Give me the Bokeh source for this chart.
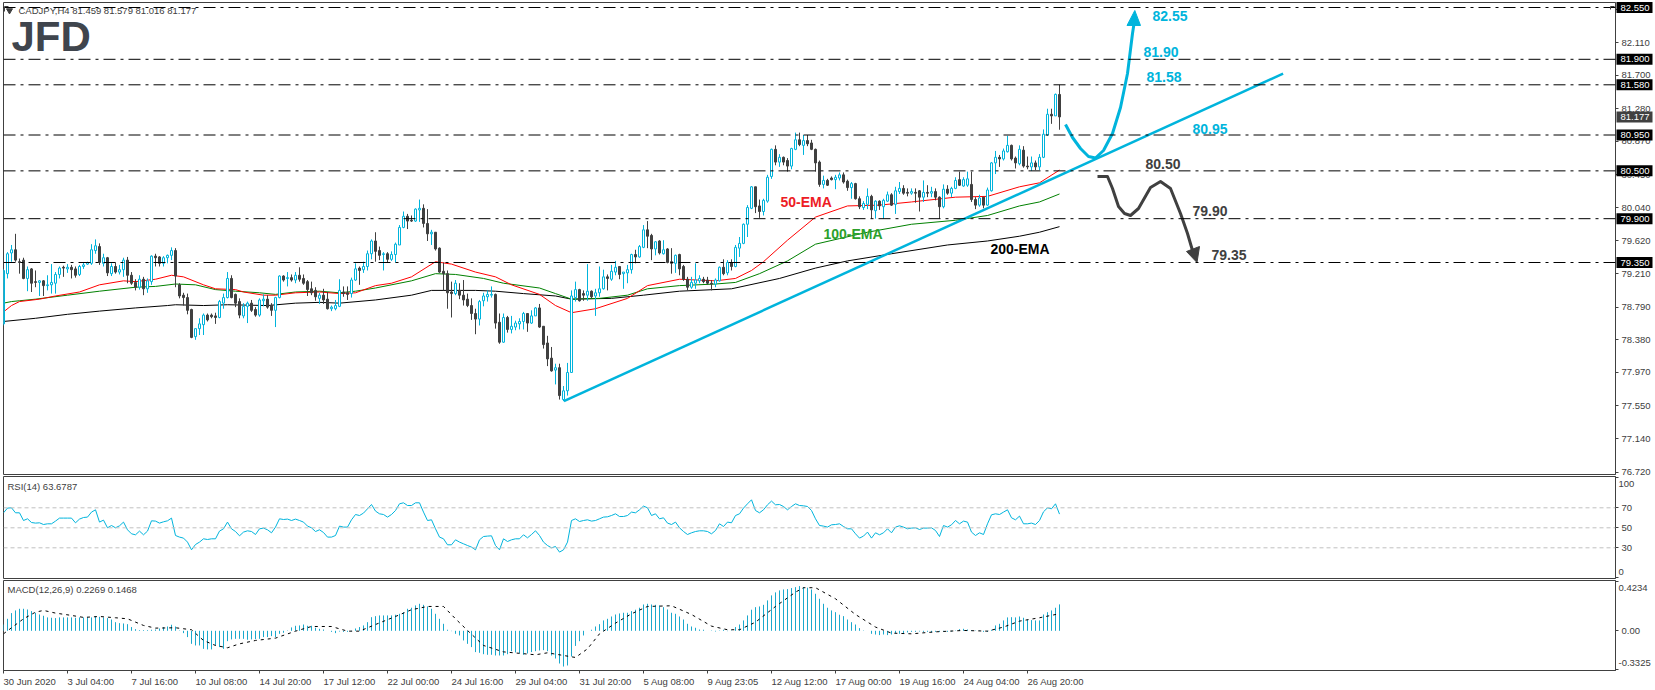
from bokeh.core.properties import value
from bokeh.embed import file_html
from bokeh.resources import INLINE
from bokeh.layouts import column
from bokeh.models import FixedTicker, Label, NumeralTickFormatter, Range1d, Span
from bokeh.plotting import figure

FONT = "Liberation Sans"
CYAN = "#00b4dc"
DARK = "#404040"

# ---------------- candle data (CADJPY H4) ----------------
rising = [1,1,1,0,0,0,1,0,0,1, 0,1,1,1,1,0,1,0,0,1, 1,1,1,1,0,1,0,1,0,1, 1,0,0,0,1,0,1,1,0,0,
          1,1,1,0,0,0,0,0,1,1, 1,0,0,0,1,1,1,0,0,0, 1,1,0,0,1,1,0,0,1,1, 0,1,0,1,0,0,0,0,0,1,
          0,0,1,1,1,0,0,1,1,0, 1,1,1,0,0,1,0,1,1,1, 1,0,0,1,1,0,0,1,0,0, 0,0,0,1,0,0,0,0,0,1,
          1,1,1,0,0,1,0,1,1,1, 1,0,1,1,0,0,0,0,1,0, 1,1,1,1,0,0,1,0,1,1, 1,0,1,1,0,1,1,1,0,1,
          1,0,0,1,0,1,0,0,1,0, 0,0,1,1,1,0,0,0,1,1, 0,1,0,1,1,1,1,1,0,0, 1,1,1,0,1,0,0,1,1,0,
          1,0,0,0,0,1,0,0,1,1, 0,0,1,0,0,1,1,0,1,0, 1,1,0,1,1,0,0,1,0,0, 1,0,1,0,0,1,0,1,1,0,
          1,1,0,0,1,0,1,1,1,0, 1,1,0,0,1,0,0,1,0,1, 1,1,0,1,0]

body_top = [79.25,79.46,79.51,79.51,79.36,79.38,79.26,79.27,79.11,79.12,
            79.12,79.07,79.10,79.20,79.28,79.29,79.29,79.29,79.27,79.30,
            79.32,79.35,79.51,79.56,79.55,79.41,79.41,79.30,79.30,79.26,
            79.38,79.38,79.19,79.10,79.14,79.14,79.12,79.43,79.43,79.42,
            79.41,79.44,79.50,79.50,79.07,78.94,78.91,78.76,78.52,78.58,
            78.69,78.69,78.69,78.68,78.86,78.91,79.15,79.15,78.95,78.86,
            78.80,78.84,78.84,78.76,78.88,78.89,78.89,78.81,78.91,79.18,
            79.18,79.16,79.16,79.19,79.19,79.15,79.11,79.02,79.00,78.94,
            78.94,78.89,78.79,78.81,79.00,78.98,78.97,79.13,79.27,79.28,
            79.30,79.46,79.62,79.62,79.50,79.46,79.46,79.45,79.58,79.79,
            79.93,79.93,79.88,80.02,80.03,80.03,79.84,79.73,79.73,79.53,
            79.24,79.21,78.98,79.09,79.00,78.94,78.89,78.81,78.71,78.86,
            78.93,78.95,78.95,78.95,78.60,78.66,78.66,78.55,78.59,78.61,
            78.71,78.71,78.68,78.78,78.78,78.55,78.34,78.15,78.03,78.03,
            77.74,77.97,78.93,79.01,79.01,78.96,78.99,78.99,78.97,79.02,
            79.17,79.17,79.24,79.29,79.30,79.23,79.26,79.45,79.45,79.55,
            79.76,79.76,79.69,79.61,79.62,79.51,79.52,79.36,79.44,79.45,
            79.30,79.14,79.10,79.13,79.15,79.14,79.13,79.09,79.13,79.29,
            79.29,79.35,79.35,79.54,79.59,79.83,80.04,80.30,80.30,80.06,
            80.13,80.42,80.77,80.77,80.67,80.67,80.63,80.78,80.89,80.89,
            80.88,80.88,80.85,80.77,80.61,80.38,80.38,80.41,80.42,80.45,
            80.45,80.37,80.34,80.34,80.15,80.09,80.18,80.18,80.12,80.12,
            80.13,80.20,80.20,80.25,80.28,80.28,80.23,80.24,80.23,80.25,
            80.23,80.23,80.24,80.24,80.17,80.27,80.27,80.28,80.38,80.39,
            80.39,80.40,80.33,80.14,80.16,80.17,80.26,80.60,80.67,80.67,
            80.75,80.82,80.82,80.66,80.77,80.76,80.56,80.60,80.60,80.67,
            80.96,81.21,81.21,81.46,81.459]

body_bot = [78.58,79.21,79.47,79.38,79.35,79.15,79.15,79.09,79.10,79.10,
            79.06,79.06,79.07,79.09,79.20,79.28,79.27,79.26,79.19,79.20,
            79.30,79.33,79.34,79.50,79.35,79.34,79.22,79.21,79.23,79.23,
            79.26,79.19,79.09,79.04,79.04,79.02,79.02,79.11,79.41,79.34,
            79.34,79.41,79.44,79.18,78.93,78.91,78.75,78.41,78.42,78.52,
            78.57,78.63,78.67,78.66,78.66,78.84,78.91,78.91,78.84,78.69,
            78.68,78.80,78.75,78.69,78.69,78.87,78.79,78.75,78.75,78.91,
            79.13,79.15,79.13,79.13,79.14,79.09,79.01,78.97,78.92,78.90,
            78.88,78.77,78.77,78.77,78.80,78.96,78.95,78.96,79.13,79.25,
            79.26,79.30,79.46,79.49,79.44,79.45,79.39,79.39,79.45,79.57,
            79.79,79.87,79.87,79.87,80.01,79.84,79.71,79.71,79.52,79.23,
            79.21,78.97,78.96,78.96,78.94,78.88,78.81,78.71,78.64,78.64,
            78.87,78.92,78.94,78.59,78.35,78.35,78.51,78.51,78.54,78.58,
            78.61,78.59,78.59,78.68,78.54,78.32,78.14,77.99,78.00,77.68,
            77.63,77.74,77.97,78.91,78.87,78.94,78.94,78.92,78.93,78.97,
            79.02,79.15,79.14,79.23,79.20,79.21,79.22,79.26,79.42,79.42,
            79.54,79.68,79.52,79.52,79.47,79.46,79.35,79.34,79.34,79.27,
            79.14,79.04,79.04,79.09,79.12,79.11,79.09,79.08,79.08,79.12,
            79.21,79.22,79.30,79.30,79.53,79.59,79.83,80.03,80.05,79.99,
            79.99,80.12,80.43,80.61,80.61,80.61,80.56,80.56,80.77,80.83,
            80.82,80.84,80.77,80.60,80.33,80.33,80.32,80.39,80.39,80.41,
            80.36,80.29,80.29,80.15,80.05,80.04,80.08,80.01,80.00,80.06,
            80.05,80.12,80.07,80.08,80.24,80.22,80.22,80.22,80.22,80.17,
            80.17,80.22,80.22,80.17,80.05,80.05,80.22,80.22,80.28,80.32,
            80.31,80.32,80.14,80.07,80.07,80.07,80.07,80.25,80.60,80.65,
            80.65,80.74,80.65,80.60,80.59,80.56,80.55,80.55,80.55,80.55,
            80.67,80.95,81.19,81.19,81.177]

highs = [79.27,79.48,79.57,79.71,79.40,79.41,79.30,79.28,79.25,79.13,
         79.13,79.19,79.33,79.23,79.30,79.31,79.33,79.32,79.30,79.32,
         79.35,79.36,79.58,79.64,79.59,79.46,79.42,79.34,79.35,79.32,
         79.41,79.42,79.23,79.14,79.19,79.17,79.15,79.44,79.46,79.43,
         79.43,79.45,79.54,79.53,79.09,78.97,78.96,78.77,78.52,78.65,
         78.71,78.71,78.71,78.72,78.88,78.96,79.23,79.19,78.96,78.90,
         78.84,78.86,78.88,78.79,78.90,78.95,78.94,78.84,78.92,79.19,
         79.19,79.23,79.20,79.23,79.29,79.20,79.13,79.11,79.04,78.97,
         79.02,78.98,78.81,78.88,79.14,79.05,79.05,79.16,79.34,79.30,
         79.36,79.50,79.64,79.73,79.55,79.48,79.48,79.49,79.60,79.82,
         79.99,79.96,79.94,80.03,80.14,80.08,80.02,79.76,79.73,79.54,
         79.35,79.25,79.11,79.13,79.09,79.13,78.96,78.90,78.77,78.88,
         78.97,79.00,79.05,78.96,78.71,78.71,78.68,78.68,78.62,78.65,
         78.73,78.71,78.75,78.79,78.83,78.55,78.43,78.29,78.08,78.08,
         77.80,78.09,79.00,79.11,79.02,79.00,79.33,79.00,79.02,79.30,
         79.26,79.20,79.32,79.37,79.30,79.23,79.32,79.46,79.51,79.57,
         79.82,79.87,79.71,79.62,79.63,79.63,79.53,79.53,79.45,79.46,
         79.32,79.17,79.17,79.34,79.19,79.17,79.17,79.13,79.15,79.30,
         79.39,79.38,79.39,79.57,79.67,79.84,80.07,80.31,80.30,80.14,
         80.15,80.45,80.78,80.82,80.71,80.68,80.66,80.79,80.98,80.98,
         80.95,80.95,80.89,80.78,80.63,80.44,80.40,80.43,80.45,80.48,
         80.48,80.39,80.36,80.35,80.18,80.12,80.28,80.20,80.13,80.13,
         80.15,80.24,80.22,80.30,80.36,80.32,80.28,80.28,80.28,80.26,
         80.38,80.32,80.30,80.28,80.18,80.33,80.32,80.30,80.42,80.49,
         80.42,80.49,80.49,80.17,80.20,80.17,80.29,80.61,80.75,80.70,
         80.78,80.94,80.83,80.68,80.82,80.81,80.68,80.68,80.63,80.71,
         81.02,81.28,81.28,81.47,81.579]

lows = [78.56,79.15,79.36,79.36,79.21,79.14,78.99,78.98,79.04,78.93,
        78.93,79.00,78.96,78.96,79.15,79.17,79.22,79.15,79.16,79.18,
        79.27,79.32,79.32,79.46,79.32,79.30,79.18,79.18,79.21,79.20,
        79.17,79.09,79.07,79.00,79.01,78.94,78.97,79.07,79.30,79.30,
        79.30,79.34,79.38,79.04,78.90,78.81,78.70,78.40,78.38,78.44,
        78.44,78.61,78.65,78.58,78.65,78.77,78.90,78.90,78.79,78.65,
        78.65,78.59,78.73,78.67,78.67,78.80,78.77,78.68,78.54,78.90,
        79.11,79.05,79.11,79.09,79.11,79.07,78.93,78.94,78.87,78.83,
        78.83,78.76,78.74,78.75,78.79,78.92,78.88,78.91,79.12,79.07,
        79.22,79.25,79.39,79.36,79.38,79.25,79.35,79.37,79.35,79.57,
        79.78,79.77,79.86,79.86,79.86,79.79,79.62,79.57,79.50,79.22,
        79.00,78.77,78.66,78.94,78.89,78.81,78.79,78.63,78.45,78.56,
        78.80,78.86,78.91,78.52,78.33,78.34,78.47,78.46,78.50,78.51,
        78.51,78.48,78.58,78.68,78.53,78.27,78.05,77.98,77.82,77.63,
        77.61,77.68,77.97,78.86,78.86,78.87,78.87,78.90,78.68,78.92,
        79.01,79.00,79.12,79.19,79.14,79.02,79.09,79.21,79.34,79.41,
        79.53,79.53,79.38,79.44,79.45,79.45,79.34,79.21,79.22,79.19,
        79.12,79.00,79.02,79.02,79.09,79.09,79.07,79.00,79.04,79.11,
        79.19,79.19,79.25,79.29,79.42,79.58,79.67,80.02,79.97,79.91,
        79.94,80.10,80.40,80.57,80.55,80.57,80.49,80.52,80.76,80.81,
        80.70,80.81,80.76,80.49,80.30,80.28,80.31,80.38,80.27,80.38,
        80.34,80.25,80.15,80.14,80.02,80.01,80.02,79.90,79.90,80.01,
        79.90,80.11,80.06,79.96,80.21,80.20,80.18,80.20,80.10,79.99,
        80.11,80.17,80.17,80.13,79.90,80.03,80.20,80.17,80.27,80.31,
        80.30,80.30,80.11,80.02,80.05,80.03,80.06,80.24,80.46,80.55,
        80.63,80.73,80.63,80.53,80.57,80.54,80.52,80.50,80.51,80.51,
        80.66,80.94,81.09,81.19,81.016]

# ---------------- moving averages ----------------
ema50_bar = [0,2,4,9,13,19,24,30,33,38,42,45,50,53,58,60,65,68,73,79,84,88,93,97,102,108,112,118,123,127,
             134,138,142,148,156,161,169,178,183,187,190,196,203,211,219,227,238,246,254,259,264]
ema50 = [78.73,78.81,78.86,78.89,78.93,78.98,79.07,79.12,79.11,79.14,79.19,79.17,79.07,79.02,79.01,78.98,78.94,
         78.94,78.97,78.98,78.96,78.97,79.06,79.09,79.17,79.36,79.33,79.23,79.17,79.07,78.95,78.81,78.72,78.77,
         78.90,79.06,79.14,79.12,79.15,79.25,79.36,79.63,79.92,80.06,80.07,80.11,80.17,80.18,80.30,80.35,80.51]
ema100_bar = [0,2,4,8,16,24,33,38,43,48,53,58,64,68,73,79,84,88,93,102,108,113,120,125,134,138,142,149,156,161,
              169,178,183,189,196,203,209,216,227,238,246,254,259,264]
ema100 = [78.84,78.86,78.87,78.89,78.94,78.99,79.04,79.05,79.08,79.07,79.01,78.99,78.97,78.95,78.98,78.99,78.97,
          78.99,79.03,79.12,79.21,79.20,79.15,79.09,79.03,78.96,78.89,78.90,78.94,79.02,79.06,79.08,79.10,79.21,
          79.37,79.58,79.65,79.73,79.83,79.88,79.94,80.06,80.11,80.21]
ema200_bar = [0,8,16,24,33,41,43,50,56,66,73,79,84,93,102,107,118,123,130,138,142,152,160,169,182,194,203,211,222,
              236,246,254,259,264]
ema200 = [78.61,78.65,78.70,78.74,78.78,78.81,78.82,78.81,78.82,78.81,78.84,78.85,78.84,78.88,78.94,79.00,79.00,
          78.99,78.96,78.93,78.89,78.90,78.94,78.99,79.02,79.15,79.28,79.37,79.46,79.57,79.62,79.68,79.73,79.80]

# ---------------- RSI(14) ----------------
rsi = [65,69.7,70,65,65,57.3,59,55.3,54.7,55,53.3,54,54,56.7,59.7,59.7,59.7,59.7,55,58.7,60.3,60.7,65.7,68,55.7,
       57.7,50,52.3,50,52,55.7,48,44,43,46.7,43,46.7,57,56.7,54.7,56,57,59.7,42.3,40.7,39.7,35.7,28,33.3,35.7,
       39,38.3,39,39,46.7,49,55.7,49,46.3,42,45.7,47,46.3,43.3,49,49.7,48,45,50.7,59,58.3,58.7,57.3,58.7,57.3,
       55.7,51.7,50,46.3,48,45.3,40.7,40.7,42.3,51.7,50.7,50.7,58,63.3,62.3,64.7,69,73.3,66.7,64,63.3,60.7,63.3,
       67.3,74,75,72.3,72.3,75,75,65.7,57.3,58,49,40.7,39,33,33,38,35.7,34,32.3,30.7,28,38,41.3,41.7,42,32.3,28,
       39,36.3,38,39,39,
       43,40,43.3,47,42.3,35.7,32.3,30,31.3,25.7,28,35.7,57.3,59,56.3,57.3,58,56.7,57.3,59,60.7,61,62.3,64,61.3,
       61.3,62.3,65.7,65,68,71.7,70,62.3,64,59,60,54.7,53.3,55.7,50,46.3,43.3,45,46.3,47,47,46.3,44,47.3,54,51.3,
       55.7,55,62.3,64,69.7,74,78,67.3,65,68,73,76.7,73,73.3,71.3,68,71.3,74,72.3,72,71.3,67.3,59,52.3,51.7,50.7,
       53,53.3,54,51.3,49,49,44,39.7,41.7,45.7,39.7,45,43,45,49,45,50.7,52,50.7,49,49.7,50,48.3,49.7,49.7,50,47.3,
       41.3,52.3,50.7,53,57.3,54,56.7,55.7,45.7,42.3,45,43.3,54,63,64,63.3,65.7,68,60,58,61.7,54,54,54.7,53.3,57.3,
       66,70,69,74,63.6787]
rsi_levels = [70, 50, 30]

# ---------------- MACD(12,26,9) ----------------
macd = [.054,.103,.152,.175,.189,.189,.183,.169,.155,.140,.129,.115,.112,.109,.115,.115,.115,.115,.112,.115,.115,
        .115,.115,.126,.120,.115,.109,.097,.074,.066,.063,.057,.032,.014,.006,.006,.006,.009,.011,.020,.032,.037,
        .052,.037,.003,-.020,-.054,-.112,-.126,-.126,-.155,-.160,-.160,-.126,-.140,-.155,-.089,-.074,-.069,-.069,
        -.069,-.077,-.074,-.072,-.069,-.054,-.054,-.046,-.054,-.026,-.017,.003,.029,.043,.046,.054,.043,.043,.026,
        .017,.011,0,-.009,-.020,-.006,-.009,-.009,-.003,.020,.032,.046,.074,.117,.126,.132,.132,.132,.132,.138,.146,
        .160,.189,.198,.218,.232,.223,.209,.189,.146,.103,.060,.009,-.003,-.026,-.040,-.083,-.112,-.140,-.183,-.189,
        -.201,-.206,-.206,-.212,-.212,-.212,-.201,-.175,-.186,-.192,-.206,-.195,-.183,-.175,-.169,-.166,-.175,-.212,
        -.238,-.281,-.307,-.298,-.221,-.130,-.089,-.040,0,.009,.037,.057,.089,.103,.123,.140,.149,.155,.155,.169,.181,
        .198,.226,.232,.226,.223,.218,.203,.183,.155,.146,.123,.097,.060,.037,.026,.011,.009,0,.003,-.006,.003,.009,
        -.003,.003,.032,.054,.089,.132,.181,.203,.209,.223,.261,.304,.330,.347,.355,.358,.367,.375,.384,.375,.370,
        .355,.318,.275,.232,.198,.175,.160,.138,.126,.097,.074,.054,.023,.003,0,-.026,-.032,-.037,-.032,-.037,-.032,
        -.020,-.026,-.020,-.014,-.009,-.009,-.006,-.009,-.009,-.014,-.009,-.009,-.006,-.009,-.006,.003,.014,.017,.011,
        .006,.003,.003,-.009,-.009,.009,.046,.060,.089,.115,.117,.115,.123,.112,.097,.092,.089,.089,.14,.16,.175,.198,
        .2269]
signal_bar = [0,2,5,8,10,13,17,20,24,28,31,35,38,43,47,50,53,56,59,63,68,73,77,82,86,89,93,98,102,106,110,113,116,
              120,125,133,136,140,143,146,149,153,157,161,167,172,177,181,184,188,193,198,200,203,208,213,218,222,
              227,233,240,246,250,254,259,264]
signal = [-.026,.026,.103,.160,.175,.152,.132,.115,.123,.112,.103,.046,.023,.026,.009,-.083,-.126,-.146,-.112,-.083,
          -.063,-.003,.037,.037,-.003,-.003,.054,.123,.181,.209,.209,.103,.003,-.126,-.181,-.206,-.189,-.212,-.229,
          -.155,-.026,.066,.146,.209,.215,.140,.040,.009,.009,.074,.209,.332,.370,.370,.275,.140,.032,-.020,-.026,
          -.009,.003,-.003,.032,.083,.112,.1468]

# ---------------- axis texts ----------------
price_ticks = [82.53,82.11,81.70,81.28,80.87,80.45,80.04,79.62,79.21,78.79,78.38,77.97,77.55,77.14,76.72]
level_prices = [82.55,81.90,81.58,80.95,80.50,79.90,79.35]
last_price = 81.177
time_tick_bars = [0,16,32,48,64,80,96,112,128,144,160,176,192,208,224,240,256]
time_labels = ["30 Jun 2020","3 Jul 04:00","7 Jul 16:00","10 Jul 08:00","14 Jul 20:00","17 Jul 12:00",
               "22 Jul 00:00","24 Jul 16:00","29 Jul 04:00","31 Jul 20:00","5 Aug 08:00","9 Aug 23:05",
               "12 Aug 12:00","17 Aug 00:00","19 Aug 16:00","24 Aug 04:00","26 Aug 20:00"]
trend_bars = [140.1, 319.9]
trend_prices = [77.61, 81.72]


def bar(px):
    return (px - 3) / 4


def price(py):
    return 82.55 - (py - 7) / 79.69


def style(p):
    p.grid.visible = False
    p.outline_line_color = DARK
    p.outline_line_width = 1
    p.background_fill_color = "white"
    p.border_fill_color = None
    ax = p.yaxis[0]
    ax.axis_line_color = DARK
    ax.major_tick_line_color = DARK
    ax.major_tick_out = 3
    ax.major_tick_in = 0
    ax.minor_tick_line_color = None
    ax.major_label_text_font = FONT
    ax.major_label_text_font_size = "9.5px"
    ax.major_label_text_color = DARK
    ax.major_label_standoff = 3


def text(p, x, y, s, color=DARK, size="9.5px", bold=False):
    p.add_layout(Label(x=x, y=y, text=s, text_color=color, text_font=FONT, text_font_size=size, level="overlay",
                       text_font_style="bold" if bold else "normal", text_baseline="middle", text_align="left"))


x_range = Range1d(bar(3), bar(1615))
n = len(body_top)
xs = list(range(n))

# ---------------- main panel ----------------
main = figure(width=1655, height=479, x_range=x_range, y_range=Range1d(price(474), price(2)),
              output_backend="svg", toolbar_location=None, x_axis_location=None, y_axis_location="right",
              min_border_left=3, min_border_right=40, min_border_top=2, min_border_bottom=5)
style(main)
main.yaxis[0].ticker = FixedTicker(ticks=price_ticks)
main.yaxis[0].formatter = NumeralTickFormatter(format="0.000")

main.line(ema200_bar, ema200, line_color="black", line_width=1)
main.line(ema100_bar, ema100, line_color="#008000", line_width=1)
main.line(ema50_bar, ema50, line_color="#ff0000", line_width=1)

colors = [CYAN if r else DARK for r in rising]
fills = ["white" if r else DARK for r in rising]
main.segment(xs, lows, xs, highs, line_color=colors, line_width=1)
main.vbar(x=xs, bottom=body_bot, top=body_top, width=0.5, fill_color=fills, line_color=colors, line_width=1)

for lv in level_prices:
    main.add_layout(Span(location=lv, dimension="width", line_color="black", line_width=1,
                         line_dash=[12, 5, 3, 5]))

main.line(trend_bars, trend_prices, line_color=CYAN, line_width=2.5)

# drawn scenario arrows
up_px = [(1065, 124), (1072, 137), (1080, 148), (1088, 156), (1095, 157.5), (1103, 150), (1112, 133),
         (1120, 107), (1127, 73), (1132, 33), (1134, 20)]
main.line([bar(a) for a, _ in up_px], [price(b) for _, b in up_px], line_color=CYAN, line_width=3, line_join="round")
up_head = [(1134.3, 10), (1126.5, 25), (1140, 25)]
main.patch([bar(a) for a, _ in up_head], [price(b) for _, b in up_head], fill_color=CYAN, line_color=CYAN)
dn_px = [(1097, 176), (1107, 176), (1112, 188), (1118, 206), (1124, 213), (1130, 215), (1138, 208), (1150, 187),
         (1160, 181), (1170, 188), (1180, 213), (1187, 233), (1192, 250)]
main.line([bar(a) for a, _ in dn_px], [price(b) for _, b in dn_px], line_color=DARK, line_width=3, line_join="round")
dn_head = [(1196.5, 262), (1186, 251), (1199, 246)]
main.patch([bar(a) for a, _ in dn_head], [price(b) for _, b in dn_head], fill_color=DARK, line_color=DARK)

for s, px, py, c in [("82.55", 1152, 15, CYAN), ("81.90", 1143, 51, CYAN), ("81.58", 1146, 76, CYAN),
                     ("80.95", 1192, 128, CYAN), ("80.50", 1145, 163, DARK), ("79.90", 1192, 210, DARK),
                     ("79.35", 1211, 254, DARK), ("50-EMA", 780, 201, "#ed1c24"), ("100-EMA", 823, 233, "#2ca02c"),
                     ("200-EMA", 990, 248, "black")]:
    text(main, bar(px), price(py), s, c, "14px", True)

text(main, bar(18), price(10), "CADJPY,H4  81.459 81.579 81.016 81.177")
text(main, bar(11), price(36), "JFD", "#3f454d", "42px", True)
main.scatter([bar(9)], [price(10)], marker="inverted_triangle", size=6, fill_color=DARK, line_color=DARK)

# ---------------- RSI panel ----------------
rsi_fig = figure(width=1655, height=104, x_range=x_range, y_range=Range1d(-0.7, 101.3),
                 output_backend="svg", toolbar_location=None, x_axis_location=None, y_axis_location="right",
                 min_border_left=3, min_border_right=40, min_border_top=1, min_border_bottom=1,
                 margin=(-4, 0, 0, 0))
style(rsi_fig)
rsi_fig.yaxis[0].ticker = FixedTicker(ticks=[0, 30, 50, 70, 100])
rsi_fig.yaxis[0].major_label_overrides = {0: "", 100: ""}
for lv in rsi_levels:
    rsi_fig.add_layout(Span(location=lv, dimension="width", line_color="#c0c0c0", line_width=1, line_dash=[4, 3]))
rsi_fig.line(xs[:len(rsi)], rsi, line_color=CYAN, line_width=1)
text(rsi_fig, bar(7), 91.3, "RSI(14) 63.6787")

# ---------------- MACD panel ----------------
macd_fig = figure(width=1655, height=111, x_range=x_range, y_range=Range1d(-0.341, 0.432),
                  output_backend="svg", toolbar_location=None, x_axis_location="below", y_axis_location="right",
                  min_border_left=3, min_border_right=40, min_border_top=1, min_border_bottom=20)
style(macd_fig)
macd_fig.yaxis[0].ticker = FixedTicker(ticks=[-0.3325, 0, 0.4234])
macd_fig.yaxis[0].major_label_overrides = {-0.3325: "", 0: "0.00", 0.4234: ""}
macd_fig.segment(xs[:len(macd)], [0] * len(macd), xs[:len(macd)], macd, line_color="#1ba8cc", line_width=1)
macd_fig.line(signal_bar, signal, line_color="black", line_width=1, line_dash=[3, 4])
text(macd_fig, bar(7), 0.355, "MACD(12,26,9) 0.2269 0.1468")

xa = macd_fig.xaxis[0]
xa.ticker = FixedTicker(ticks=time_tick_bars)
xa.major_label_overrides = {b: "" for b in time_tick_bars}
xa.axis_line_color = DARK
xa.major_tick_line_color = DARK
xa.major_tick_out = 3
xa.major_tick_in = 0
xa.minor_tick_line_color = None

# ---------------- transparent full-page layer for the margin texts ----------------
# its frame covers the whole page: x runs in bars, y in prices, like the main panel
over = figure(width=1655, height=690, x_range=Range1d(bar(0), bar(1655)), y_range=Range1d(price(690), price(0)),
              output_backend="svg", toolbar_location=None, x_axis_location=None, y_axis_location=None,
              min_border_left=0, min_border_right=0, min_border_top=0, min_border_bottom=0,
              margin=(-690, 0, 0, 0), frame_align=False)
over.grid.visible = False
over.outline_line_color = None
over.background_fill_color = None
over.border_fill_color = None

box_h = 5.5 / 79.69
over.quad(left=[bar(1616)] * len(level_prices), right=[bar(1652)] * len(level_prices),
          top=[v + box_h for v in level_prices], bottom=[v - box_h for v in level_prices],
          fill_color="black", line_color=None)
over.quad(left=[bar(1616)], right=[bar(1652)], top=[last_price + box_h], bottom=[last_price - box_h],
          fill_color=DARK, line_color=None)
common = dict(text_font=value(FONT), text_font_size="9.5px", text_baseline="middle", text_align="left")
over.text(x=[bar(1620)] * len(level_prices), y=level_prices, text=[f"{v:.3f}" for v in level_prices],
          text_color="white", **common)
over.text(x=[bar(1620)], y=[last_price], text=[f"{last_price:.3f}"], text_color="white", **common)
over.text(x=[bar(1618)] * 4, y=[price(483), price(571.7), price(587), price(662)],
          text=["100", "0", "0.4234", "-0.3325"], text_color=DARK, **common)
over.text(x=time_tick_bars, y=[price(681)] * len(time_tick_bars), text=time_labels, text_color=DARK, **common)
over.line([bar(4), bar(4), bar(8)], [price(11), price(6), price(6)], line_color=DARK, line_width=1)
over.line([bar(1610), bar(1610), bar(1614)], [price(9), price(6), price(6)], line_color=DARK, line_width=1)

root = column(main, rsi_fig, macd_fig, over, spacing=0, styles={"position": "absolute", "left": "0px", "top": "0px"})
open("out.html", "w").write(file_html(root, INLINE))
